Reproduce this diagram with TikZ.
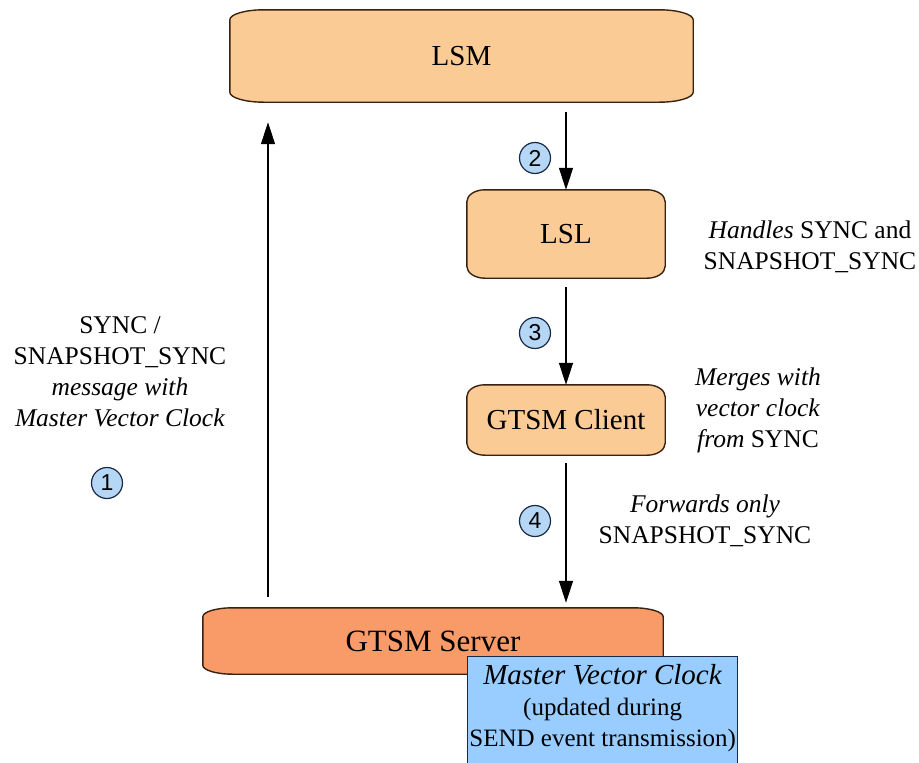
\documentclass[tikz,border=0pt]{standalone}
\usepackage{fontspec}
\setmainfont{Liberation Serif}
\newfontfamily\digitfont{Liberation Sans}
\usetikzlibrary{arrows.meta,backgrounds,calc}

\definecolor{boxfill}{HTML}{FBCB96}
\definecolor{boxline}{HTML}{3A2210}
\definecolor{serverfill}{HTML}{F99B68}
\definecolor{clockfill}{HTML}{99CCFF}
\definecolor{clockline}{HTML}{1A2A44}
\definecolor{stepfill}{HTML}{B5D6F5}

\tikzset{
  x=1pt, y=1pt,
  boxlabel/.style={font=\fontsize{29}{33}\selectfont, inner sep=0pt},
  note/.style={font=\fontsize{25.5}{31}\selectfont, align=center, inner sep=0pt},
  stepmark/.style={circle, draw=clockline, line width=1.2pt, fill=stepfill,
    minimum size=31pt, inner sep=0pt, font=\digitfont\fontsize{23}{23}\selectfont},
  flow/.style={line width=1.3pt, -{Triangle[length=22pt,width=14pt]}},
  frame/.style={draw=boxline, line width=1.4pt},
}

% rounded box with elliptical corners around a named node
\newcommand{\ellbox}[4]{%
  \path[#4] ([xshift=#2pt]#1.north west) -- ([xshift=-#2pt]#1.north east)
    arc[start angle=90,end angle=0,x radius=#2pt,y radius=#3pt]
    -- ([yshift=#3pt]#1.south east)
    arc[start angle=0,end angle=-90,x radius=#2pt,y radius=#3pt]
    -- ([xshift=#2pt]#1.south west)
    arc[start angle=270,end angle=180,x radius=#2pt,y radius=#3pt]
    -- ([yshift=-#3pt]#1.north west)
    arc[start angle=180,end angle=90,x radius=#2pt,y radius=#3pt] -- cycle;}

\begin{document}
\begin{tikzpicture}
\useasboundingbox (0,0) rectangle (919,-763);
\clip (0,0) rectangle (919,-763);

% boxes (geometry only; outlines go on the background layer)
\node[boxlabel, minimum width=463pt, minimum height=92pt] (lsm) at (461.5,-56) {LSM};
\node[boxlabel, minimum width=198pt, minimum height=88pt] (lsl) at (566,-234) {LSL};
\node[boxlabel, minimum width=198pt, minimum height=70pt] (client) at (566,-420) {GTSM Client};
\node[boxlabel, font=\fontsize{31}{35}\selectfont, minimum width=460pt, minimum height=66pt] (server) at (433,-641) {GTSM Server};

\begin{pgfonlayer}{background}
  \ellbox{lsm}{34}{10}{frame, fill=boxfill}
  \ellbox{lsl}{18}{12}{frame, fill=boxfill}
  \ellbox{client}{18}{12}{frame, fill=boxfill}
  \ellbox{server}{30}{9}{frame, fill=serverfill}
\end{pgfonlayer}

% master vector clock box, overlapping the server
\node[draw=clockline, line width=1.4pt, fill=clockfill, anchor=north west,
      minimum width=270pt, minimum height=115pt, inner sep=0pt] (clock) at (467,-656) {};
\node[note, font=\fontsize{25}{31}\selectfont, anchor=north] (clocktext) at ([yshift=-8pt]clock.north)
  {{\fontsize{29}{31}\selectfont\textit{Master Vector Clock}}\\(updated during\\SEND event transmission)};

% connectors
\coordinate (upx) at (268,0);
\draw[flow, shorten <=11pt, shorten >=20pt] (server.north -| upx) -- (lsm.south -| upx);
\draw[flow, shorten <=10pt] (lsm.south -| lsl.north) -- (lsl.north);
\draw[flow, shorten <=9pt] (lsl.south) -- (client.north);
\draw[flow, shorten <=8pt, shorten >=5pt] (client.south) -- (client.south |- server.north);

% step markers
\node[stepmark] (s1) at (107,-483) {1};
\node[stepmark] (s2) at (535,-158) {2};
\node[stepmark] (s3) at (535,-333) {3};
\node[stepmark] (s4) at (535,-521) {4};

% annotations
\node[note] (n1) at (120,-372) {SYNC /\\SNAPSHOT\_SYNC\\\textit{message with}\\\textit{Master Vector Clock}};
\node[note] (n2) at (810,-247) {\textit{Handles} SYNC and\\SNAPSHOT\_SYNC};
\node[note] (n3) at (758,-410) {\textit{Merges with}\\\textit{vector clock}\\\textit{from} SYNC};
\node[note] (n4) at (705,-521) {\textit{Forwards only}\\SNAPSHOT\_SYNC};
\end{tikzpicture}
\end{document}
